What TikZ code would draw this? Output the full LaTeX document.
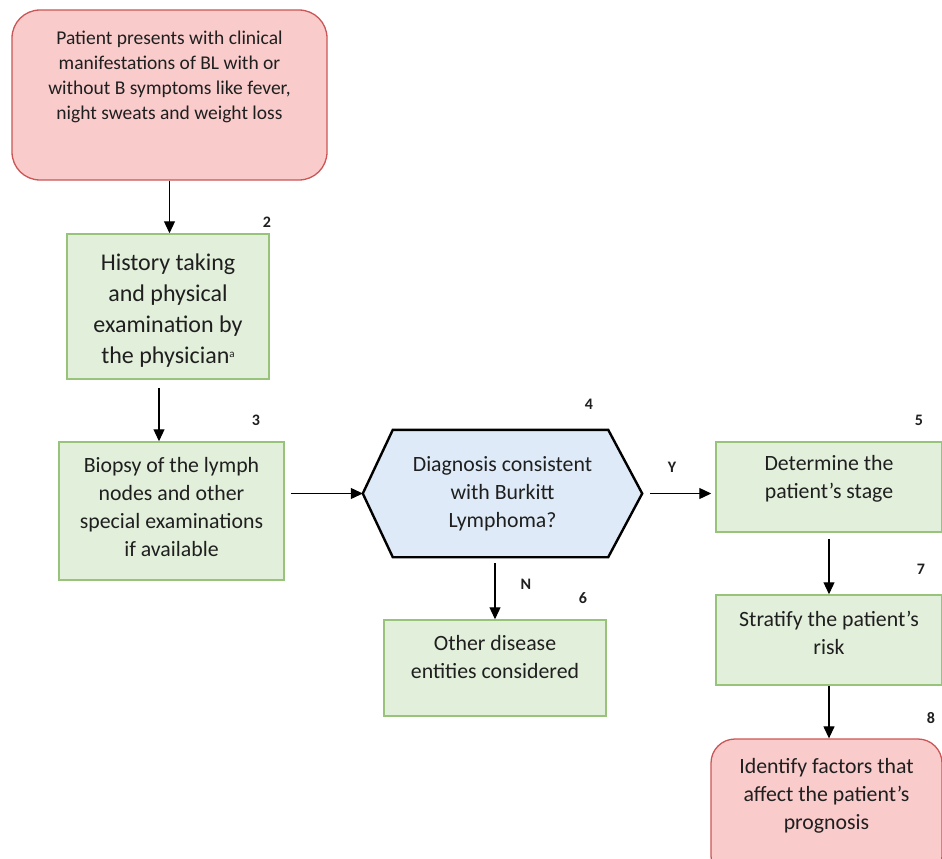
\documentclass[tikz,border=0pt]{standalone}
\usepackage{fontspec}
\setmainfont{Carlito}
\usetikzlibrary{arrows.meta,calc,backgrounds}
\definecolor{redfill}{HTML}{F9CBCB}
\definecolor{redline}{HTML}{CC5555}
\definecolor{greenfill}{HTML}{E2EFDA}
\definecolor{greenline}{HTML}{97C47A}
\definecolor{bluefill}{HTML}{DEEAF7}
\definecolor{txt}{HTML}{1F1F1F}
\begin{document}
\begin{tikzpicture}[x=1pt,y=-1pt,
  redbox/.style={draw=redline, fill=redfill, line width=1.3pt, rounded corners=28pt, inner sep=0pt},
  greenbox/.style={draw=greenline, fill=greenfill, line width=1.5pt, inner sep=0pt},
  boxtext/.style={align=center, font=\fontsize{21.8}{28}\selectfont, text=txt, inner sep=0pt},
  smalltext/.style={align=center, font=\fontsize{19.5}{25}\selectfont, text=txt, inner sep=0pt},
  bigtext/.style={align=center, font=\fontsize{24}{31}\selectfont, text=txt, inner sep=0pt},
  num/.style={font=\fontsize{16}{18}\selectfont\bfseries, text=txt, inner sep=0pt},
  arr/.style={-{Triangle[length=12pt,width=11pt]}, line width=1.2pt},
]
\useasboundingbox (0,0) rectangle (942,859);
\clip (0,0) rectangle (942,859);

% nodes
\node[redbox, minimum width=315pt, minimum height=170pt,
  label={[smalltext, yshift=18pt]center:{Patient presents with clinical\\manifestations of BL with or\\without B symptoms like fever,\\night sweats and weight loss}}]
  (n1) at (169.5,95) {};

\node[greenbox, minimum width=202pt, minimum height=145pt,
  label={[bigtext, yshift=-4pt]center:{History taking\\and physical\\examination by\\the physician{\fontsize{11}{12}\selectfont\raisebox{6pt}{a}}}}]
  (n2) at (168,306.5) {};

\node[greenbox, minimum width=225pt, minimum height=138pt,
  label={[boxtext, yshift=4pt]center:{Biopsy of the lymph\\nodes and other\\special examinations\\if available}}]
  (n3) at (171.5,511) {};

\node[minimum width=279pt, minimum height=127pt, inner sep=0pt,
  label={[boxtext, yshift=0pt]center:{Diagnosis consistent\\with Burkitt\\Lymphoma?}}]
  (n4) at (502.5,493.5) {};
\begin{scope}[on background layer]
\draw[fill=bluefill, line width=2.4pt, line join=miter]
  (n4.west) -- ($(n4.north west)+(30,0)$) -- ($(n4.north east)+(-34,0)$) -- (n4.east)
  -- ($(n4.south east)+(-34,0)$) -- ($(n4.south west)+(30,0)$) -- cycle;
\end{scope}

\node[greenbox, minimum width=226pt, minimum height=90pt,
  label={[boxtext, yshift=8pt]center:{Determine the\\patient’s stage}}]
  (n5) at (829,487) {};

\node[greenbox, minimum width=222pt, minimum height=96pt,
  label={[boxtext, yshift=11pt]center:{Other disease\\entities considered}}]
  (n6) at (495,668) {};

\node[greenbox, minimum width=226pt, minimum height=90pt,
  label={[boxtext, yshift=7pt]center:{Stratify the patient’s\\risk}}]
  (n7) at (829,640) {};

\node[redbox, rounded corners=24pt, minimum width=231pt, minimum height=141pt,
  label={[boxtext, yshift=13.5pt]center:{Identify factors that\\affect the patient’s\\prognosis}}]
  (n8) at (826.5,809.5) {};

% step numbers
\node[num] (l2) at (267,222) {2};
\node[num] (l3) at (256,420) {3};
\node[num] (l4) at (589,404) {4};
\node[num] (l5) at (919,420) {5};
\node[num] (l6) at (583,598) {6};
\node[num] (l7) at (921,569) {7};
\node[num] (l8) at (931,718) {8};
\node[num] (ly) at (672,467) {Y};
\node[num] (ln) at (526,584) {N};

% connectors
\draw[arr] (n1.south) -- (n1.south |- n2.north);
\draw[arr, shorten <=8pt] (n2.south -| 159,0) -- (n3.north -| 159,0);
\draw[arr, shorten <=6pt] (n3.east |- n4.west) -- (n4.west);
\draw[arr, shorten <=8pt, shorten >=4pt] (n4.east) -- (n4.east -| n5.west);
\draw[arr, shorten <=6pt] (n6.north |- n4.south) -- (n6.north);
\draw[arr, shorten <=6pt] (n5.south) -- (n7.north);
\draw[arr] (n7.south) -- (n7.south |- n8.north);
\end{tikzpicture}
\end{document}
